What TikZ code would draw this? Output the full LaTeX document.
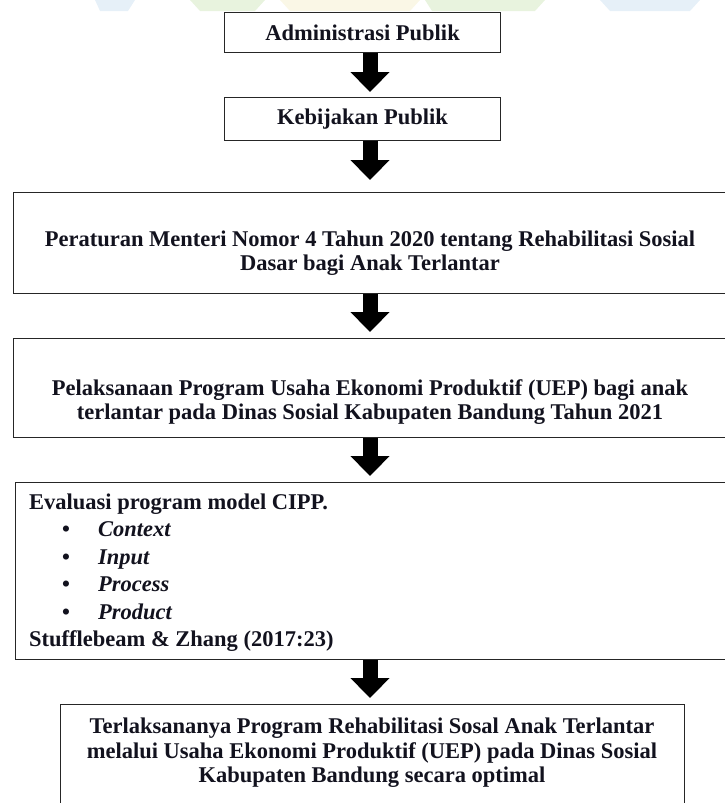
\documentclass[tikz,border=0pt]{standalone}
\usepackage{fontspec}
\setmainfont{Liberation Serif}
\usetikzlibrary{arrows.meta,calc}
\definecolor{txt}{RGB}{18,18,30}
\definecolor{wmgreen}{RGB}{232,243,222}
\definecolor{wmyellow}{RGB}{250,247,230}
\definecolor{wmblue}{RGB}{230,240,248}
\begin{document}
\begin{tikzpicture}[x=1pt,y=1pt,
  box/.style={draw=black!85, line width=1.1pt, rectangle, inner sep=0pt, anchor=north west},
  lbl/.style={font=\fontsize{22.5}{24.5}\selectfont\bfseries, text=txt, align=center, inner sep=0pt},
  lft/.style={font=\fontsize{22.5}{24.5}\selectfont\bfseries, text=txt, inner sep=0pt, anchor=base west},
  bigarrow/.style={draw=black, line width=15pt, -{Triangle[width=38pt,length=20pt]}}
]
\useasboundingbox (0,0) rectangle (725,-803);
% faint watermark strip at the top
\fill[wmblue] (95,0) -- (135,0) -- (128,-11) -- (100,-11) -- cycle;
\fill[wmgreen] (190,0) -- (265,0) -- (255,-11) -- (200,-11) -- cycle;
\fill[wmyellow] (280,0) -- (420,0) -- (410,-11) -- (290,-11) -- cycle;
\fill[wmgreen] (425,0) -- (545,0) -- (535,-11) -- (432,-11) -- cycle;
\fill[wmblue] (600,0) -- (700,0) -- (690,-11) -- (610,-11) -- cycle;

\coordinate (ax) at (370,0);

% boxes
\node[box, minimum width=276pt, minimum height=40pt] (b1) at (224,-12) {};
\node[lbl] (t1) at (b1.center) {Administrasi Publik};

\node[box, minimum width=276pt, minimum height=43pt] (b2) at (224,-97) {};
\node[lbl] (t2) at (b2.center) {Kebijakan Publik};

\node[box, minimum width=740pt, minimum height=101pt] (b3) at (13,-192) {};
\node[lbl] (t3) at (370,-253) {Peraturan Menteri Nomor 4 Tahun 2020 tentang Rehabilitasi Sosial\\Dasar bagi Anak Terlantar};

\node[box, minimum width=740pt, minimum height=99pt] (b4) at (13,-338) {};
\node[lbl] (t4) at (370,-402) {Pelaksanaan Program Usaha Ekonomi Produktif (UEP) bagi anak\\terlantar pada Dinas Sosial Kabupaten Bandung Tahun 2021};

\node[box, minimum width=740pt, minimum height=177pt] (b5) at (15,-482) {};
\node[lft] (e0) at (29,-509) {Evaluasi program model CIPP.};
\node[lft] (e1b) at (62,-536.5) {\textbullet};
\node[lft] (e1) at (98,-536.5) {\textit{Context}};
\node[lft] (e2b) at (62,-564) {\textbullet};
\node[lft] (e2) at (98,-564) {\textit{Input}};
\node[lft] (e3b) at (62,-591.5) {\textbullet};
\node[lft] (e3) at (98,-591.5) {\textit{Process}};
\node[lft] (e4b) at (62,-619) {\textbullet};
\node[lft] (e4) at (98,-619) {\textit{Product}};
\node[lft] (e5) at (29,-646) {Stufflebeam \& Zhang (2017:23)};

\node[box, minimum width=624pt, minimum height=130pt] (b6) at (60,-704) {};
\node[lbl, anchor=north] (t6) at (372,-718) {Terlaksananya Program Rehabilitasi Sosal Anak Terlantar\\melalui Usaha Ekonomi Produktif (UEP) pada Dinas Sosial\\Kabupaten Bandung secara optimal};

% arrows
\draw[bigarrow] (b1.south -| ax) -- ($(b2.north -| ax)+(0,5)$);
\draw[bigarrow] (b2.south -| ax) -- ($(b3.north -| ax)+(0,12)$);
\draw[bigarrow] (b3.south -| ax) -- ($(b4.north -| ax)+(0,6)$);
\draw[bigarrow] (b4.south -| ax) -- ($(b5.north -| ax)+(0,6)$);
\draw[bigarrow] (b5.south -| ax) -- ($(b6.north -| ax)+(0,6)$);
\end{tikzpicture}
\end{document}
